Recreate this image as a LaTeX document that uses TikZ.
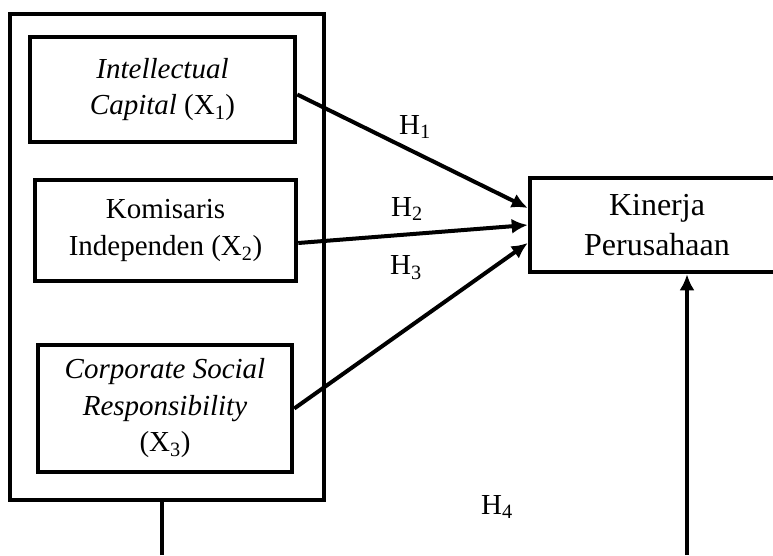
\documentclass[tikz,border=0pt]{standalone}
\usepackage{fontspec}
\setmainfont{Liberation Serif}
\usetikzlibrary{arrows.meta}
\tikzset{
  box/.style={draw, line width=4.5pt, align=center, inner sep=0pt,
    font=\fontsize{29}{36.5}\selectfont},
  arr/.style={line width=4pt, -{Latex[length=16pt,width=15pt]}},
  lbl/.style={font=\fontsize{29}{36}\selectfont, inner sep=0pt},
  ln/.style={line width=4.5pt}
}
\begin{document}
\begin{tikzpicture}[x=1pt,y=-1pt]
\useasboundingbox (0,0) rectangle (773,555);
\clip (0,0) rectangle (773,555);
\node[draw, line width=4.5pt, minimum width=314, minimum height=486, inner sep=0pt] (outer) at (167,257) {};
\node[box, minimum width=265, minimum height=105] (x1) at (162.5,89.5) {\textit{Intellectual}\\\textit{Capital} (X\textsubscript{1})};
\node[box, minimum width=261, minimum height=101] (x2) at (165.5,230.5) {Komisaris\\Independen (X\textsubscript{2})};
\node[box, minimum width=254, minimum height=127] (x3) at (165,408.5) {\textit{Corporate Social}\\\textit{Responsibility}\\(X\textsubscript{3})};
\node[box, minimum width=254, minimum height=94, font=\fontsize{32}{40}\selectfont] (kin) at (657,225) {Kinerja\\Perusahaan};
\draw[arr] ([yshift=-5pt]x1.east) -- ([yshift=17pt]kin.west);
\draw[arr] ([yshift=-12.5pt]x2.east) -- (kin.west);
\draw[arr] (x3.east) -- ([yshift=-18pt]kin.west);
\coordinate (b1) at (162,555);
\draw[ln] (b1) -- (b1 |- outer.south);
\coordinate (b2) at (687,555);
\draw[arr] (b2) -- (b2 |- kin.south);
\node[lbl] (h1) at (415,127) {H\textsubscript{1}};
\node[lbl] (h2) at (407,209) {H\textsubscript{2}};
\node[lbl] (h3) at (406,268) {H\textsubscript{3}};
\node[lbl] (h4) at (497,507) {H\textsubscript{4}};
\end{tikzpicture}
\end{document}
